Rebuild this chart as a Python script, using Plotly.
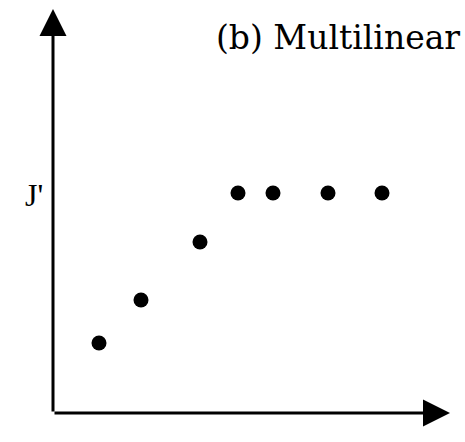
import plotly.graph_objects as go

# Sample positions (x) and measured response (y); the last four sit on the plateau J'
x_vals = [4.6, 8.8, 14.7, 18.5, 22.0, 27.5, 32.9]
y_vals = [7.0, 11.3, 17.1, 22.0, 22.0, 22.0, 22.0]
plateau = 22.0
title_text = "(b) Multilinear"
level_label = "J'"

x_axis_end = 39.7
y_axis_end = 40.4

fig = go.Figure()
fig.add_trace(go.Scatter(
    x=x_vals, y=y_vals, mode="markers",
    marker=dict(color="black", size=15),
    showlegend=False, hoverinfo="skip",
))

# Axes drawn as arrows from the origin
for tip_x, tip_y in [(x_axis_end, 0), (0, y_axis_end)]:
    fig.add_annotation(
        x=tip_x, y=tip_y, ax=0, ay=0,
        xref="x", yref="y", axref="x", ayref="y",
        text="", showarrow=True,
        arrowhead=2, arrowsize=1.8, arrowwidth=3, arrowcolor="black",
    )

fig.add_annotation(
    x=-1.9, y=plateau - 0.2, xref="x", yref="y", text=level_label,
    showarrow=False, font=dict(family="Liberation Serif", size=32, color="black"),
)
fig.add_annotation(
    x=1.0, y=1.0, xref="paper", yref="paper", xanchor="right", yanchor="top",
    xshift=-3, yshift=-16, text=title_text, showarrow=False,
    font=dict(family="DejaVu Serif", size=33, color="black"),
)

fig.update_xaxes(range=[-5.3, 41.2], visible=False)
fig.update_yaxes(range=[-2.9, 41.3], visible=False)
fig.update_layout(
    width=465, height=442,
    margin=dict(l=0, r=0, t=0, b=0),
    plot_bgcolor="white", paper_bgcolor="white",
)
fig.write_html("out.html")
